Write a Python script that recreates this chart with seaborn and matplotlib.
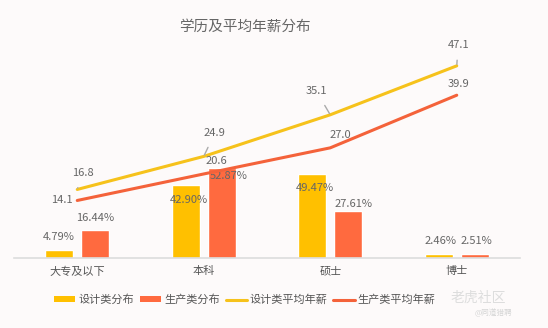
import numpy as np
import pandas as pd
import matplotlib
matplotlib.use("Agg")
import matplotlib.pyplot as plt
import seaborn as sns
from matplotlib.patches import Patch
from matplotlib.lines import Line2D

# ---- data ----
categories = ["大专及以下", "本科", "硕士", "博士"]
design_share = [4.79, 42.90, 49.47, 2.46]
prod_share = [16.44, 52.87, 27.61, 2.51]
design_salary = [16.8, 24.9, 35.1, 47.1]
prod_salary = [14.1, 20.6, 27.0, 39.9]
series_bar = ["设计类分布", "生产类分布"]
series_line = ["设计类平均年薪", "生产类平均年薪"]
title = "学历及平均年薪分布"

# ---- styles ----
YELLOW = "#FFC000"
RED = "#FF6A3F"
LINE_YEL = "#F6C21B"
LINE_RED = "#F4623A"
BG = "#FDFAFA"
TXT = "#666666"
FONT = ["Noto Sans CJK SC", "DejaVu Sans"]

sns.set_theme(style="white")
plt.rcParams["font.family"] = FONT

fig = plt.figure(figsize=(5.48, 3.28), dpi=100, facecolor=BG)
ax = fig.add_axes([14/548, 1-258/328, 506/548, 204/328])
ax.set_facecolor("none")

df = pd.DataFrame({
    "cat": categories * 2,
    "val": design_share + prod_share,
    "series": [series_bar[0]] * len(categories) + [series_bar[1]] * len(categories),
})
sns.barplot(data=df, x="cat", y="val", hue="series", order=categories,
            hue_order=series_bar, palette=[YELLOW, RED], width=0.57, gap=0.22,
            saturation=1, ax=ax, legend=False)
ax.set_ylim(0, 120)
ax.set_xlim(-0.5, len(categories) - 0.5)
ax.set_xlabel("")
ax.set_ylabel("")
ax.set_yticks([])
for s in ["top", "right", "left"]:
    ax.spines[s].set_visible(False)
ax.spines["bottom"].set_color("#DCDCDC")
ax.spines["bottom"].set_linewidth(1.2)
ax.tick_params(axis="x", length=0, pad=6, labelsize=8, labelcolor="#555555")

# bar labels (offsets in points: dx, dy relative to bar top)
bar_off = {
    0: [(0, 9), (2, -11), (2, -10), (1, 9)],
    1: [(0, 9), (5, -6), (4, 5), (1, 9)],
}
for i, cont in enumerate(ax.containers):
    vals = design_share if i == 0 else prod_share
    for j, (rect, v) in enumerate(zip(cont.patches, vals)):
        x = rect.get_x() + rect.get_width() / 2
        dx, dy = bar_off[i][j]
        ax.annotate(f"{v:.2f}%", (x, v), xytext=(dx, dy), textcoords="offset points",
                    ha="center", va="center", fontsize=8, color=TXT)

ax2 = ax.twinx()
ax2.set_facecolor("none")
xpos = np.arange(len(categories))
sns.lineplot(x=xpos, y=design_salary, color=LINE_YEL, lw=2.2, ax=ax2)
sns.lineplot(x=xpos, y=prod_salary, color=LINE_RED, lw=2.2, ax=ax2)
ax2.set_ylim(0, 50)
ax2.set_yticks([])
for s in ["top", "right", "left", "bottom"]:
    ax2.spines[s].set_visible(False)

yel_off = [(4, 12), (8, 17), (-10, 17), (1, 15)]
for x, v, (dx, dy) in zip(xpos, design_salary, yel_off):
    ax2.annotate(f"{v:.1f}", (x, v), xytext=(dx, dy), textcoords="offset points",
                 ha="center", va="center", fontsize=8, color=TXT,
                 arrowprops=dict(arrowstyle="-", color="#AAAAAA", lw=1,
                                 shrinkA=5, shrinkB=1))
red_off = [(-11, 0), (9, 9), (7, 9), (1, 8)]
for x, v, (dx, dy) in zip(xpos, prod_salary, red_off):
    ax2.annotate(f"{v:.1f}", (x, v), xytext=(dx, dy), textcoords="offset points",
                 ha="center", va="center", fontsize=8, color=TXT)

fig.text(245/548, 1-27/328, title, ha="center", va="center", fontsize=10.5, color=TXT)

handles = [
    Patch(facecolor=YELLOW, edgecolor="none"),
    Patch(facecolor=RED, edgecolor="none"),
    Line2D([], [], color=LINE_YEL, lw=2.2),
    Line2D([], [], color=LINE_RED, lw=2.2),
]
fig.legend(handles, series_bar + series_line, loc="center", ncol=4,
           bbox_to_anchor=(245/548, 1-300/328), frameon=False, fontsize=8,
           labelcolor="#555555", handlelength=1.9, handleheight=0.45,
           handletextpad=0.3, columnspacing=0.5)

fig.text(478/548, 1-298/328, "老虎社区", ha="center", va="center", fontsize=10,
         color="#DDDDDD")
fig.text(493/548, 1-313/328, "@同道猎聘", ha="center", va="center", fontsize=5.5,
         color="#D5D5D5")

fig.savefig("out.png", dpi=100, facecolor=BG)
